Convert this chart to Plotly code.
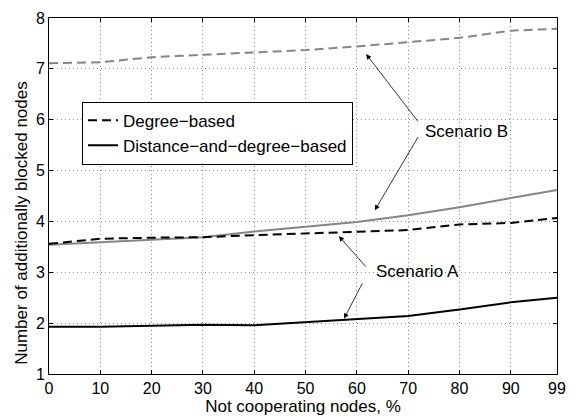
import plotly.graph_objects as go

x_vals = [0, 10, 20, 30, 40, 50, 60, 70, 80, 90, 99]
x_ticks = [0, 10, 20, 30, 40, 50, 60, 70, 80, 90, 99]

b_degree = [7.11, 7.13, 7.23, 7.28, 7.33, 7.37, 7.44, 7.53, 7.61, 7.75, 7.79]
b_dist_degree = [3.54, 3.59, 3.64, 3.69, 3.80, 3.90, 3.99, 4.12, 4.28, 4.46, 4.62]
a_degree = [3.56, 3.66, 3.68, 3.69, 3.73, 3.76, 3.80, 3.83, 3.94, 3.97, 4.07]
a_dist_degree = [1.93, 1.93, 1.95, 1.97, 1.96, 2.02, 2.09, 2.14, 2.27, 2.41, 2.50]

FONT = "Liberation Sans, Arial, Helvetica, sans-serif"
GRAY = "#858585"

fig = go.Figure()
fig.add_trace(go.Scatter(x=x_vals, y=b_degree, mode="lines",
                         line=dict(color=GRAY, width=2, dash="9px,5px"), showlegend=False))
fig.add_trace(go.Scatter(x=x_vals, y=b_dist_degree, mode="lines",
                         line=dict(color=GRAY, width=2), showlegend=False))
fig.add_trace(go.Scatter(x=x_vals, y=a_degree, mode="lines", name="Degree\u2212based",
                         line=dict(color="black", width=2, dash="9px,5px")))
fig.add_trace(go.Scatter(x=x_vals, y=a_dist_degree, mode="lines", name="Distance\u2212and\u2212degree\u2212based",
                         line=dict(color="black", width=2)))

axis_common = dict(showline=True, linecolor="black", linewidth=1, mirror="ticks",
                   ticks="inside", ticklen=4, tickcolor="black",
                   showgrid=True, gridcolor="#8a8a8a", griddash="1px,3px", gridwidth=1,
                   zeroline=False, tickfont=dict(size=16, color="black", family=FONT))

fig.update_xaxes(range=[0, 99], tickvals=x_ticks, ticktext=[str(t) for t in x_ticks],
                 title=dict(text="Not cooperating nodes, %", font=dict(size=17, color="black", family=FONT), standoff=0),
                 **axis_common)
fig.update_yaxes(range=[1, 8], dtick=1, **axis_common)

# y-axis title (placed slightly below centre, as in the reference)
fig.add_annotation(x=-0.053, y=0.425, xref="paper", yref="paper", xanchor="center", yanchor="middle",
                   text="Number of additionally blocked nodes", textangle=-90, showarrow=False,
                   font=dict(size=17, color="black", family=FONT))

arrows = [
    (61.8, 7.29, 72.1, 5.94),
    (63.5, 4.22, 72.1, 5.69),
    (56.5, 3.71, 62.0, 3.08),
    (57.5, 2.09, 61.2, 2.81),
]
for hx, hy, tx, ty in arrows:
    fig.add_annotation(x=hx, y=hy, ax=tx, ay=ty, xref="x", yref="y", axref="x", ayref="y",
                       text="", showarrow=True, arrowhead=2, arrowsize=1.3, arrowwidth=0.8,
                       arrowcolor="black")

fig.add_annotation(x=81.3, y=5.77, xref="x", yref="y", text="Scenario B", showarrow=False,
                   font=dict(size=17, color="black", family=FONT))
fig.add_annotation(x=71.9, y=3.02, xref="x", yref="y", text="Scenario A", showarrow=False,
                   font=dict(size=17, color="black", family=FONT))

fig.update_layout(
    width=579, height=419,
    margin=dict(l=49, r=22, t=10, b=42),
    plot_bgcolor="white", paper_bgcolor="white",
    font=dict(family=FONT, color="black", size=16),
    legend=dict(x=0.065, y=0.765, xanchor="left", yanchor="top",
                bordercolor="black", borderwidth=1, bgcolor="white",
                font=dict(size=17, color="black", family=FONT),
                tracegroupgap=0, itemwidth=30),
)

fig.write_html("out.html", config={"displayModeBar": False},
               post_script="document.body.style.margin='0px';")
